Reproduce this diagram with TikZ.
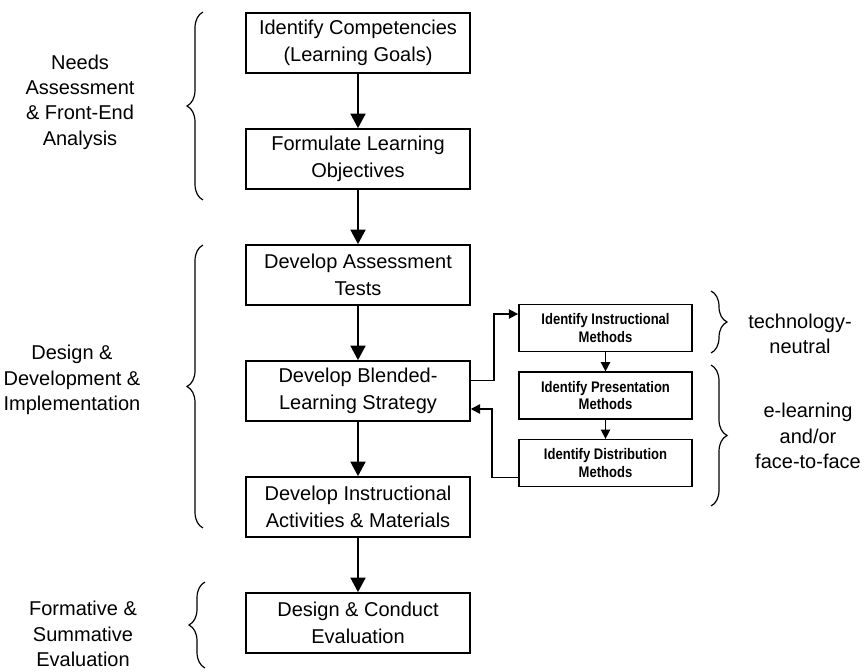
\documentclass[tikz,border=0pt]{standalone}
\usepackage{fontspec}
\setmainfont{Liberation Sans}
\newfontfamily\narrowfont[FakeStretch=0.85]{Liberation Sans}
\usetikzlibrary{arrows.meta,decorations.pathreplacing}
\begin{document}
\begin{tikzpicture}[x=0.75pt, y=-0.75pt, node distance=87pt,
  box/.style={draw, rectangle, line width=1.1pt, minimum width=168pt, minimum height=45pt,
    align=center, font=\fontsize{15}{20}\selectfont},
  small/.style={draw, rectangle, line width=1.1pt, minimum width=130pt, minimum height=35pt,
    align=center, font=\narrowfont\bfseries\fontsize{11.5}{13}\selectfont},
  side/.style={align=center, font=\fontsize{15}{19}\selectfont},
  flow/.style={-{Triangle[length=11pt,width=11pt]}, line width=2.2pt},
  link/.style={-{Triangle[length=7pt,width=7pt]}, line width=1.2pt},
  curly/.style={decorate, decoration={brace, amplitude=12pt}, line width=0.9pt}]
  \useasboundingbox (0,0) rectangle (867,671);

  % main column
  \node (goals) [box] at (358,43) {Identify Competencies\\(Learning Goals)};
  \node (objectives) [box, below of=goals] {Formulate Learning\\Objectives};
  \node (tests) [box, below of=objectives] {Develop Assessment\\Tests};
  \node (strategy) [box, below of=tests] {Develop Blended-\\Learning Strategy};
  \node (activities) [box, below of=strategy] {Develop Instructional\\Activities \& Materials};
  \node (evaluation) [box, below of=activities] {Design \& Conduct\\Evaluation};

  \draw [flow] (goals) -- (objectives);
  \draw [flow] (objectives) -- (tests);
  \draw [flow] (tests) -- (strategy);
  \draw [flow] (strategy) -- (activities);
  \draw [flow] (activities) -- (evaluation);

  % strategy sub-steps
  \node (instr) [small] at (605.5,328) {Identify Instructional\\Methods};
  \node (present) [small, node distance=50.6pt, below of=instr] {Identify Presentation\\Methods};
  \node (distrib) [small, node distance=50.6pt, below of=present] {Identify Distribution\\Methods};

  \draw [link] (instr) -- (present);
  \draw [link] (present) -- (distrib);
  \draw [link] ([yshift=8pt]strategy.east) -- ++(17.5pt,0) |- ([yshift=10.5pt]instr.west);
  \draw [link] ([yshift=-11pt]distrib.west) -- ++(-19.5pt,0) |- ([yshift=-13.5pt]strategy.east);

  % phases on the left
  \draw [curly] (203,200) -- (203,12);
  \draw [curly] (203,528) -- (203,245);
  \draw [curly] (205,668) -- (205,582);
  \node (needs) [side] at (80,102) {Needs\\Assessment\\\& Front-End\\Analysis};
  \node (design) [side] at (72,380) {Design \&\\Development \&\\Implementation};
  \node (formative) [side] at (83,634) {Formative \&\\Summative\\Evaluation};

  % media on the right
  \draw [curly] (711,291) -- (711,353);
  \draw [curly] (711,365) -- (711,506);
  \node (neutral) [side] at (800,334) {technology-\\neutral};
  \node (media) [side] at (808,436) {e-learning\\and/or\\face-to-face};
\end{tikzpicture}
\end{document}
